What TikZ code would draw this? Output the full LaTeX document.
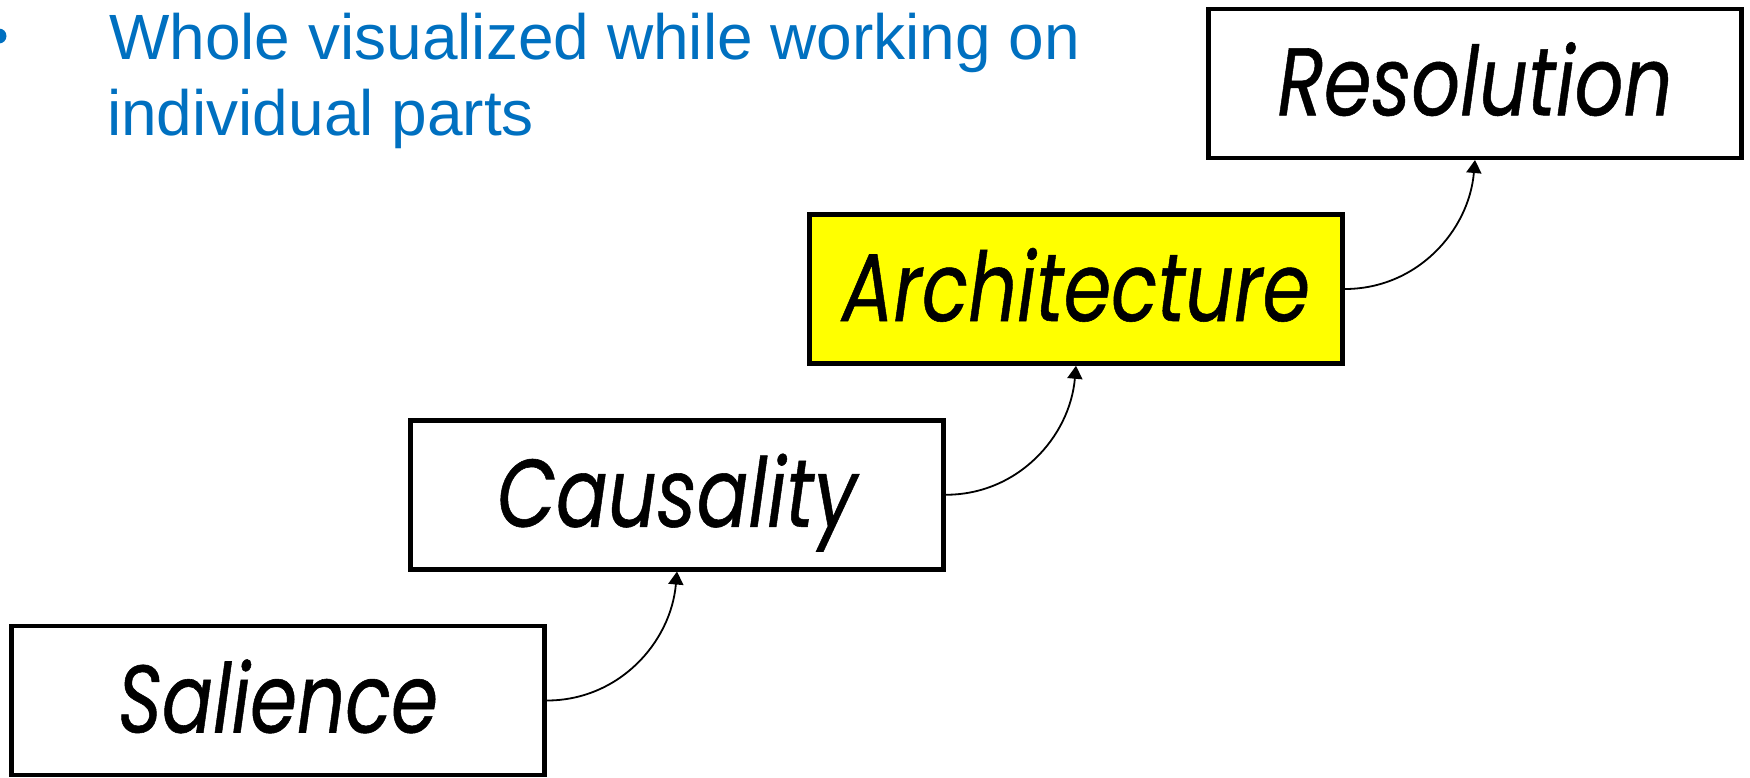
\documentclass[tikz,border=0pt]{standalone}
\usepackage{fontspec}
\usetikzlibrary{arrows.meta}

\newfontfamily\bodyfont{Liberation Sans}
\newfontfamily\boxfont{Poppins}[FakeBold=0.6]

\definecolor{bulletblue}{HTML}{0070C0}
\definecolor{boxyellow}{HTML}{FFFF00}

% Sets a word in the stage font and stretches it horizontally to a given width
\newsavebox\wordbox
\newcommand\fitword[2]{%
  \sbox\wordbox{\boxfont\itshape\fontsize{96}{96}\selectfont #2}%
  \pgfmathsetmacro\wordscale{#1/\the\wd\wordbox}%
  \scalebox{\wordscale}[1]{\usebox\wordbox}}

\tikzset{
  stage/.style={draw=black, line width=4.5pt, minimum width=533pt,
    minimum height=149pt, inner sep=0pt, text height=64pt, text depth=0pt},
  link/.style={line width=1.8pt, draw=black,
    -{Triangle[length=13pt,width=15pt]}},
  bodytext/.style={anchor=base west, inner sep=0pt, text=bulletblue,
    font=\bodyfont\fontsize{64}{76}\selectfont},
  bulletdot/.style={circle, fill=bulletblue, minimum size=15pt, inner sep=0pt},
}

\begin{document}
\begin{tikzpicture}[x=1pt,y=1pt]
  \useasboundingbox (0,0) rectangle (1750,-777);

  % bullet point text
  \node[bulletdot] (dot) at (-1,-36) {};
  \node[bodytext] (line1) at (109,-59.3) {Whole visualized while working on};
  \node[bodytext] (line2) at (107,-135) {individual parts};

  % the four stages, rising to the right
  \node[stage] (sal) at (278,-700.5) {\fitword{320}{Salience}};
  \node[stage] (cau) at (677,-494.75) {\fitword{360}{Causality}};
  \node[stage, fill=boxyellow] (arc) at (1076,-289) {\fitword{468}{Architecture}};
  \node[stage] (res) at (1475,-83.25) {\fitword{395}{Resolution}};

  % connectors from each stage up to the next
  \draw[link] (sal.east) to[out=0,in=-95] (cau.south);
  \draw[link] (cau.east) to[out=0,in=-95] (arc.south);
  \draw[link] (arc.east) to[out=0,in=-95] (res.south);
\end{tikzpicture}
\end{document}
